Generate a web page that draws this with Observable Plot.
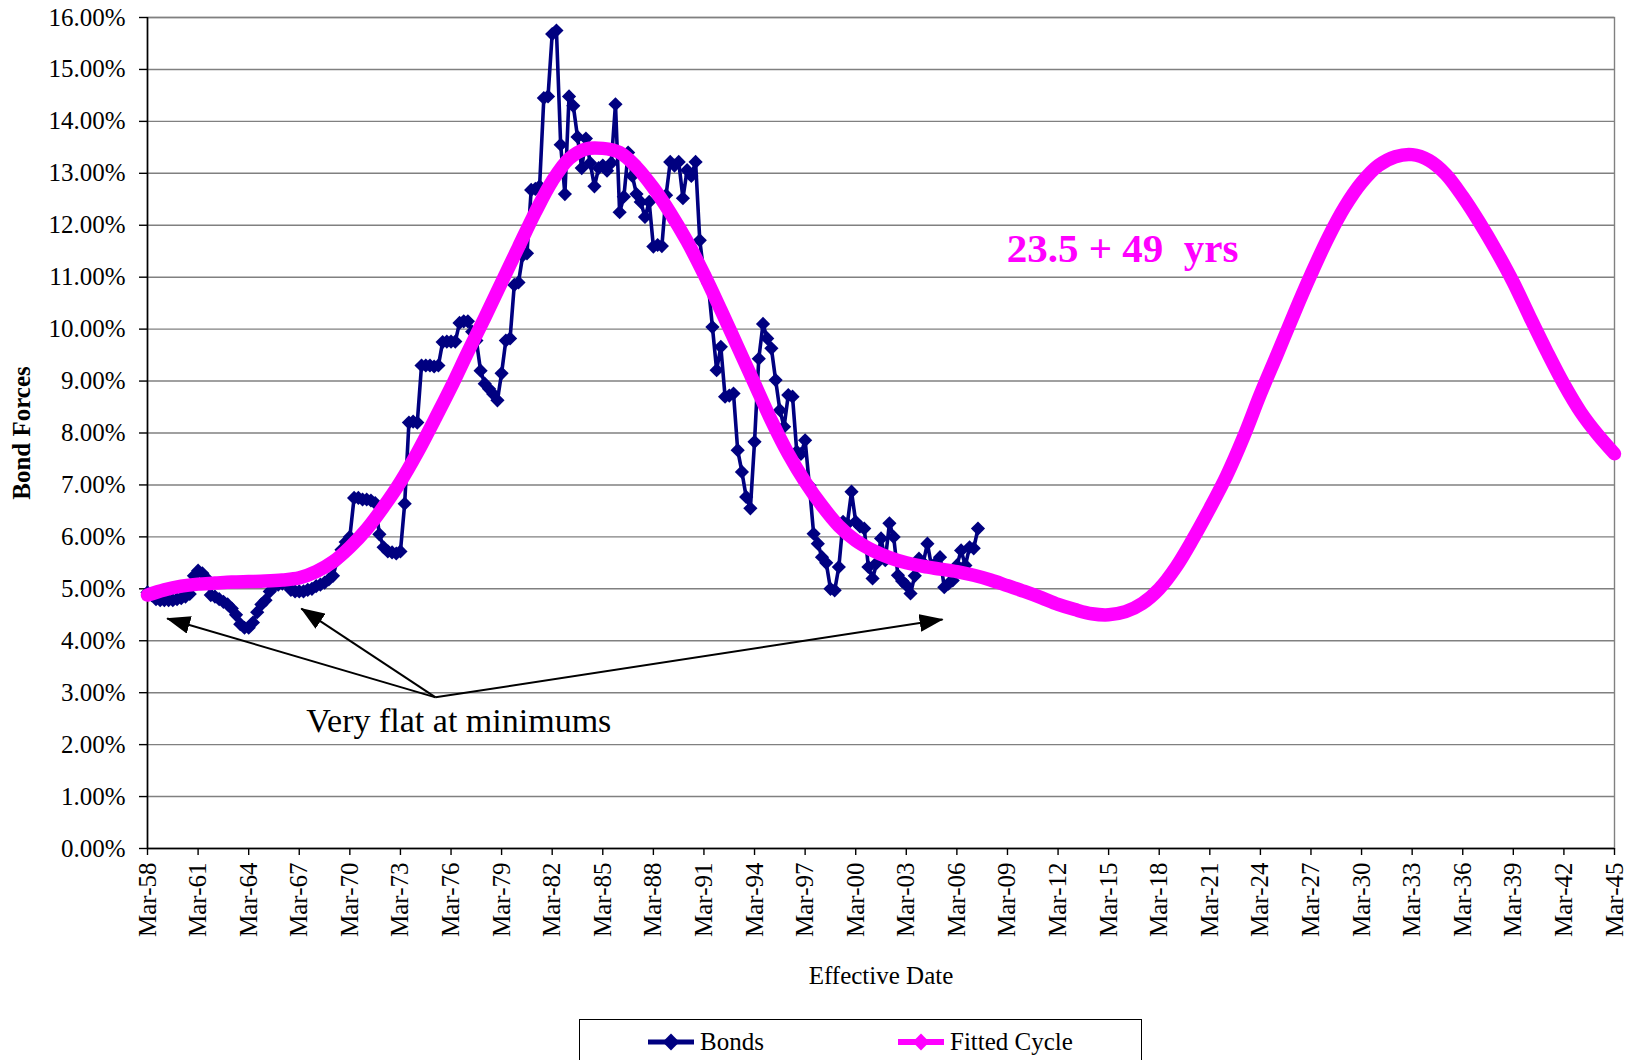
<!DOCTYPE html>
<html><head><meta charset="utf-8">
<script src="https://cdn.jsdelivr.net/npm/d3@7"></script>
<script src="https://cdn.jsdelivr.net/npm/@observablehq/plot@0.6"></script>
<style>
body{margin:0;background:#fff;font-family:'Liberation Serif','Times New Roman',serif;}
#wrap{position:relative;width:1632px;height:1060px;overflow:hidden;background:#fff}
#legend{position:absolute;left:579px;top:1019px;width:563px;height:70px;border:1.5px solid #000;box-sizing:border-box;background:#fff}
</style></head><body>
<div id="wrap"><div id="chart"></div><div id="legend"></div></div>
<script>
// ---- data ----
const bondStartYear = 1958; // quarterly, first point March 1958
const bondValues = [
  4.93, 4.88, 4.80, 4.78,
  4.78, 4.78, 4.78, 4.80,
  4.82, 4.85, 4.90, 5.25,
  5.35, 5.30, 5.20, 4.88,
  4.85, 4.80, 4.75, 4.70,
  4.62, 4.50, 4.32, 4.25,
  4.25, 4.35, 4.55, 4.70,
  4.78, 4.95, 5.05, 5.08,
  5.10, 5.10, 4.98, 4.95,
  4.95, 4.95, 4.98, 5.00,
  5.05, 5.08, 5.12, 5.18,
  5.25, 5.55, 5.75, 5.90,
  6.00, 6.75, 6.75, 6.72,
  6.72, 6.70, 6.65, 6.05,
  5.80, 5.72, 5.70, 5.68,
  5.72, 6.64, 8.20, 8.22,
  8.20, 9.30, 9.30, 9.30,
  9.28, 9.30, 9.75, 9.76,
  9.76, 9.76, 10.12, 10.15,
  10.15, 9.95, 9.78, 9.20,
  8.95, 8.85, 8.75, 8.63,
  9.15, 9.78, 9.82, 10.85,
  10.90, 11.42, 11.46, 12.68,
  12.70, 12.75, 14.45, 14.48,
  15.68, 15.75, 13.55, 12.60,
  14.48, 14.30, 13.70, 13.10,
  13.67, 13.20, 12.75, 13.10,
  13.15, 13.05, 13.20, 14.33,
  12.25, 12.55, 13.40, 12.95,
  12.60, 12.45, 12.16, 12.45,
  11.59, 11.62, 11.60, 12.58,
  13.22, 13.15, 13.22, 12.52,
  13.06, 12.95, 13.22, 11.71,
  11.07, 10.88, 10.04, 9.21,
  9.66, 8.70, 8.72, 8.76,
  7.67, 7.25, 6.77, 6.55,
  7.83, 9.43, 10.10, 9.82,
  9.63, 9.02, 8.44, 8.12,
  8.73, 8.70, 7.64, 7.60,
  7.86, 6.99, 6.06, 5.87,
  5.61, 5.50, 5.00, 4.97,
  5.42, 6.29, 6.25, 6.87,
  6.29, 6.20, 6.16, 5.42,
  5.20, 5.50, 5.97, 5.55,
  6.26, 6.00, 5.26, 5.15,
  5.07, 4.91, 5.25, 5.58,
  5.50, 5.87, 5.42, 5.50,
  5.61, 5.03, 5.10, 5.16,
  5.45, 5.74, 5.45, 5.80,
  5.78, 6.16
];
const fitStartYear = 1958; // yearly, March of each year
const fitValues = [
  4.88, 4.98, 5.05, 5.09, 5.11, 5.13, 5.14, 5.15, 5.17, 5.21,   // 1958-1967
  5.33, 5.52, 5.80, 6.15, 6.58, 7.06, 7.62, 8.24, 8.88, 9.56,   // 1968-1977
  10.22, 10.90, 11.58, 12.25, 12.85, 13.28, 13.47, 13.48, 13.40, 13.12, // 1978-1987
  12.72, 12.24, 11.69, 11.06, 10.37, 9.66, 8.95, 8.24, 7.60, 7.06,   // 1988-1997
  6.60, 6.21, 5.93, 5.74, 5.60, 5.50, 5.43, 5.38, 5.33, 5.26,   // 1998-2007
  5.17, 5.06, 4.95, 4.83, 4.70, 4.60, 4.52, 4.50, 4.56, 4.72,   // 2008-2017
  5.00, 5.42, 5.96, 6.55, 7.18, 7.92, 8.75, 9.52, 10.30, 11.05, // 2018-2027
  11.75, 12.35, 12.82, 13.15, 13.32, 13.36, 13.25, 12.98, 12.55, 12.05, // 2028-2037
  11.50, 10.90, 10.22, 9.56, 8.94, 8.40, 7.97, 7.60            // 2038-2045
];
const xTickYears = [1958,1961,1964,1967,1970,1973,1976,1979,1982,1985,1988,1991,1994,1997,2000,2003,2006,2009,2012,2015,2018,2021,2024,2027,2030,2033,2036,2039,2042,2045];
const yTickValues = [0,1,2,3,4,5,6,7,8,9,10,11,12,13,14,15,16];
const seriesNames = ["Bonds", "Fitted Cycle"];
const seriesColors = ["#000080", "#FF00FF"];
const cycleLabel = "23.5 + 49\u00a0 yrs";
const noteLabel = "Very flat at minimums";
const xTitle = "Effective Date";
const yTitle = "Bond Forces";
// annotation anchors in data space: [year, month, day, value]
const noteSource = [1975, 3, 1, 2.91];
const noteTargets = [[1959, 4, 1, 4.43], [1967, 3, 15, 4.62], [2005, 3, 25, 4.41]];
const noteTextPos = [1967, 7, 1, 2.45];
const cycleLabelPos = [2009, 1, 12, 11.55];

// ---- build ----
const D = (y, m = 2, d = 1) => new Date(Date.UTC(y, m, d));
const bonds = bondValues.map((v, i) => ({date: D(bondStartYear, 2 + 3 * i, 1), value: v}));
const fit = fitValues.map((v, i) => ({date: D(fitStartYear + i, 2, 1), value: v}));
const xTicks = xTickYears.map(y => D(y));
const arrows = noteTargets.map(t => ({
  x1: D(noteSource[0], noteSource[1], noteSource[2]), y1: noteSource[3],
  x2: D(t[0], t[1], t[2]), y2: t[3]
}));
const font = "'Liberation Serif','Times New Roman',serif";

const chart = Plot.plot({
  width: 1632, height: 1005,
  marginLeft: 147, marginRight: 18, marginTop: 17, marginBottom: 157,
  style: {fontFamily: font, fontSize: "25px", color: "#000", background: "#fff", overflow: "visible"},
  x: {type: "utc", domain: [D(1958), D(2045)]},
  y: {domain: [0, 16]},
  marks: [
    Plot.gridY(yTickValues, {stroke: "#808080", strokeOpacity: 1, strokeWidth: 1.4}),
    Plot.frame({stroke: "#808080", strokeWidth: 1.4}),
    Plot.axisY(yTickValues, {tickSize: 8, tickPadding: 14, tickFormat: v => v.toFixed(2) + "%", fontSize: 25, label: null, strokeWidth: 1.4}),
    Plot.axisX(xTicks, {tickSize: 7, tickPadding: 7, tickRotate: -90, tickFormat: d3.utcFormat("%b-%y"), fontSize: 25, label: null, strokeWidth: 1.4}),
    Plot.ruleX([D(1958)], {stroke: "#000", strokeWidth: 1.6}),
    Plot.ruleY([0], {stroke: "#000", strokeWidth: 1.6}),
    Plot.line(bonds, {x: "date", y: "value", stroke: seriesColors[0], strokeWidth: 3.6}),
    Plot.dot(bonds, {x: "date", y: "value", symbol: "diamond2", r: 6.4, fill: seriesColors[0], stroke: null}),
    Plot.line(fit, {x: "date", y: "value", stroke: seriesColors[1], strokeWidth: 13.5, curve: "catmull-rom"}),
    Plot.link(arrows, {x1: "x1", y1: "y1", x2: "x2", y2: "y2", stroke: "#000", strokeWidth: 2}),
    Plot.text([noteLabel], {x: D(noteTextPos[0], noteTextPos[1], noteTextPos[2]), y: noteTextPos[3], text: d => d, textAnchor: "start", fontSize: 34, fill: "#000"}),
    Plot.text([cycleLabel], {x: D(cycleLabelPos[0], cycleLabelPos[1], cycleLabelPos[2]), y: cycleLabelPos[3], text: d => d, textAnchor: "start", fontSize: 41, fontWeight: "bold", fill: seriesColors[1]}),
    Plot.text([yTitle], {frameAnchor: "left", dx: -126, rotate: -90, textAnchor: "middle", text: d => d, fontSize: 25, fontWeight: "bold"}),
    Plot.text([xTitle], {frameAnchor: "bottom", dy: 135, textAnchor: "middle", text: d => d, fontSize: 25})
  ]
});
document.getElementById("chart").appendChild(chart);

// filled arrowheads on the annotation links
const svg = d3.select(chart);
svg.append("defs").append("marker")
  .attr("id", "tri").attr("viewBox", "0 0 24 18").attr("refX", 23).attr("refY", 9)
  .attr("markerWidth", 24).attr("markerHeight", 18).attr("markerUnits", "userSpaceOnUse")
  .attr("orient", "auto")
  .append("path").attr("d", "M0,0L24,9L0,18Z").attr("fill", "#000");
svg.selectAll("g[aria-label='link'] path").attr("marker-end", "url(#tri)");

// legend
const leg = d3.select("#legend").append("svg").attr("width", 560).attr("height", 60);
const items = [{x: 68, name: seriesNames[0], color: seriesColors[0], w: 5}, {x: 318, name: seriesNames[1], color: seriesColors[1], w: 6}];
items.forEach(it => {
  leg.append("line").attr("x1", it.x).attr("x2", it.x + 46).attr("y1", 22).attr("y2", 22).attr("stroke", it.color).attr("stroke-width", it.w);
  leg.append("path").attr("d", d3.symbol(d3.symbolDiamond2, 180)()).attr("transform", `translate(${it.x + 23},22)`).attr("fill", it.color);
  leg.append("text").attr("x", it.x + 52).attr("y", 30).attr("font-family", font).attr("font-size", 25).text(it.name);
});
</script>
</body></html>
